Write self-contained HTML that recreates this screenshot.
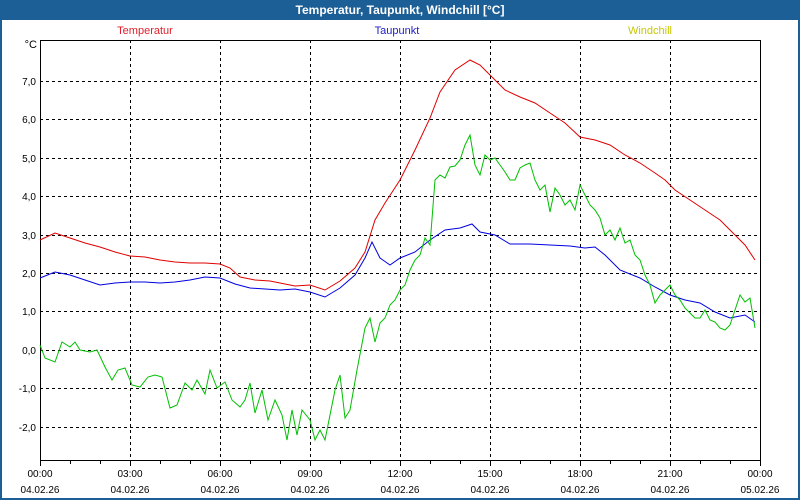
<!DOCTYPE html>
<html><head><meta charset="utf-8"><style>
body{margin:0;width:800px;height:500px;overflow:hidden;background:#fff}
svg{display:block;font-family:"Liberation Sans",sans-serif}
</style></head><body>
<svg width="800" height="500" viewBox="0 0 800 500">
<rect x="0" y="0" width="800" height="500" fill="#1c5f96"/>
<rect x="2" y="20" width="796" height="478" fill="#fff"/>
<text x="400" y="14" fill="#fff" font-size="12" font-weight="bold" text-anchor="middle">Temperatur, Taupunkt, Windchill [°C]</text>
<text x="145" y="34" fill="#e0202a" font-size="11" text-anchor="middle">Temperatur</text>
<text x="397" y="34" fill="#2020c0" font-size="11" text-anchor="middle">Taupunkt</text>
<text x="650" y="34" fill="#c8c800" font-size="11" text-anchor="middle">Windchill</text>
<text x="37" y="48" font-size="11" text-anchor="end" fill="#000">°C</text>
<g stroke="#000" stroke-dasharray="3,3" stroke-width="1">
<line x1="130.5" y1="40" x2="130.5" y2="460"/><line x1="220.5" y1="40" x2="220.5" y2="460"/>
<line x1="310.5" y1="40" x2="310.5" y2="460"/><line x1="400.5" y1="40" x2="400.5" y2="460"/>
<line x1="490.5" y1="40" x2="490.5" y2="460"/><line x1="580.5" y1="40" x2="580.5" y2="460"/>
<line x1="670.5" y1="40" x2="670.5" y2="460"/>
<line x1="40" y1="81.5" x2="760" y2="81.5"/><line x1="40" y1="119.5" x2="760" y2="119.5"/>
<line x1="40" y1="158.5" x2="760" y2="158.5"/><line x1="40" y1="196.5" x2="760" y2="196.5"/>
<line x1="40" y1="235.5" x2="760" y2="235.5"/><line x1="40" y1="273.5" x2="760" y2="273.5"/>
<line x1="40" y1="311.5" x2="760" y2="311.5"/><line x1="40" y1="350.5" x2="760" y2="350.5"/>
<line x1="40" y1="388.5" x2="760" y2="388.5"/><line x1="40" y1="427.5" x2="760" y2="427.5"/>
</g>
<rect x="40.5" y="40.5" width="720" height="420" fill="none" stroke="#000"/>
<g stroke="#000"><path d="M40.5 460v6M70.5 460v4M100.5 460v4M130.5 460v6M160.5 460v4M190.5 460v4M220.5 460v6M250.5 460v4M280.5 460v4M310.5 460v6M340.5 460v4M370.5 460v4M400.5 460v6M430.5 460v4M460.5 460v4M490.5 460v6M520.5 460v4M550.5 460v4M580.5 460v6M610.5 460v4M640.5 460v4M670.5 460v6M700.5 460v4M730.5 460v4M760.5 460v6"/></g>
<g font-size="10" fill="#000" text-anchor="end">
<text x="36" y="85">7,0</text><text x="36" y="123">6,0</text><text x="36" y="162">5,0</text><text x="36" y="200">4,0</text><text x="36" y="239">3,0</text><text x="36" y="277">2,0</text><text x="36" y="315">1,0</text><text x="36" y="354">0,0</text><text x="36" y="392">-1,0</text><text x="36" y="431">-2,0</text>
</g>
<g font-size="10" fill="#000" text-anchor="middle">
<text x="40" y="477">00:00</text><text x="130" y="477">03:00</text><text x="220" y="477">06:00</text><text x="310" y="477">09:00</text><text x="400" y="477">12:00</text><text x="490" y="477">15:00</text><text x="580" y="477">18:00</text><text x="670" y="477">21:00</text><text x="760" y="477">00:00</text>
<text x="40" y="493">04.02.26</text><text x="130" y="493">04.02.26</text><text x="220" y="493">04.02.26</text><text x="310" y="493">04.02.26</text><text x="400" y="493">04.02.26</text><text x="490" y="493">04.02.26</text><text x="580" y="493">04.02.26</text><text x="670" y="493">04.02.26</text><text x="760" y="493">05.02.26</text>
</g>
<polyline fill="none" stroke="#e00000" stroke-width="1" points="40,240 55,233 70,238 85,243 100,247 115,252 130,256 145,257 160,260 175,262 190,263 205,263 220,264 230,268 240,277 255,280 270,281 285,284 295,286 310,285 325,290 340,281 355,268 365,252 375,220 385,203 400,180 415,150 430,118 440,92 455,70 470,60 480,65 490,75 505,90 520,97 535,103 550,113 565,123 580,137 595,140 610,145 625,155 640,163 655,173 665,180 675,190 690,200 705,210 720,220 735,235 745,245 755,260"/>
<polyline fill="none" stroke="#0000e0" stroke-width="1" points="40,278 55,272 70,275 85,280 100,285 115,283 130,282 145,282 160,283 175,282 190,280 205,277 220,278 235,284 250,288 265,289 280,290 295,289 310,292 325,297 340,288 355,275 365,258 372,242 380,258 390,265 400,258 415,252 430,240 445,230 460,228 472,224 480,232 495,235 510,244 530,244 550,245 570,246 585,248 595,247 605,255 620,270 640,278 655,287 670,295 685,300 700,303 715,312 730,318 745,315 755,322"/>
<polyline fill="none" stroke="#00c000" stroke-width="1" points="40,345 45,358 55,362 62,342 70,347 75,342 80,350 90,352 97,350 105,367 112,380 118,370 125,368 132,385 140,387 148,377 155,375 162,377 170,408 177,405 185,383 192,390 197,380 205,394 210,370 217,388 225,382 232,400 240,407 245,400 250,383 255,413 262,390 268,420 275,400 282,415 287,440 292,410 297,435 302,410 310,420 315,440 320,430 325,440 330,415 335,390 340,375 345,418 350,410 357,370 365,328 370,318 375,342 380,323 385,318 390,305 395,300 400,290 405,285 410,270 415,260 420,255 425,238 430,245 435,180 440,175 445,178 450,167 455,166 460,160 465,145 470,135 475,165 480,175 485,155 490,160 495,158 500,165 505,172 510,180 515,180 520,168 525,165 530,163 535,180 540,190 545,185 550,212 555,188 560,195 565,205 570,200 575,210 580,185 585,195 590,205 595,210 600,218 605,235 610,230 615,240 620,228 625,243 630,240 635,255 640,260 645,275 650,285 655,303 660,295 665,290 670,285 675,295 680,300 685,308 690,313 695,318 700,318 705,310 710,320 715,322 720,328 725,330 730,325 735,310 740,295 745,302 750,298 755,328"/>
</svg>
</body></html>
